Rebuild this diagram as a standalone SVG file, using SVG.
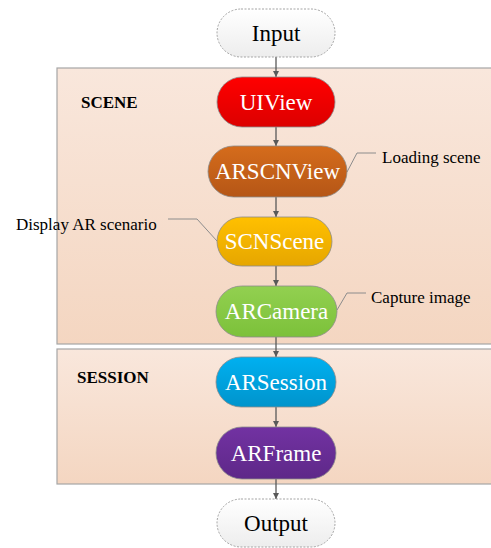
<svg xmlns="http://www.w3.org/2000/svg" width="491" height="548" viewBox="0 0 491 548">
  <defs>
    <linearGradient id="gPanel" x1="0" y1="0" x2="0" y2="1">
      <stop offset="0" stop-color="#f9e7dc"/>
      <stop offset="1" stop-color="#f4d6c1"/>
    </linearGradient>
    <linearGradient id="gIO" x1="0" y1="0" x2="0" y2="1">
      <stop offset="0" stop-color="#ffffff"/>
      <stop offset="1" stop-color="#ededed"/>
    </linearGradient>
    <linearGradient id="gRed" x1="0" y1="0" x2="0" y2="1">
      <stop offset="0" stop-color="#ff0000"/>
      <stop offset="1" stop-color="#dc0000"/>
    </linearGradient>
    <linearGradient id="gOrange" x1="0" y1="0" x2="0" y2="1">
      <stop offset="0" stop-color="#d56c1c"/>
      <stop offset="1" stop-color="#b55616"/>
    </linearGradient>
    <linearGradient id="gYellow" x1="0" y1="0" x2="0" y2="1">
      <stop offset="0" stop-color="#ffc000"/>
      <stop offset="1" stop-color="#e6a600"/>
    </linearGradient>
    <linearGradient id="gGreen" x1="0" y1="0" x2="0" y2="1">
      <stop offset="0" stop-color="#92d050"/>
      <stop offset="1" stop-color="#7cc13a"/>
    </linearGradient>
    <linearGradient id="gBlue" x1="0" y1="0" x2="0" y2="1">
      <stop offset="0" stop-color="#00b0f0"/>
      <stop offset="1" stop-color="#0094cc"/>
    </linearGradient>
    <linearGradient id="gPurple" x1="0" y1="0" x2="0" y2="1">
      <stop offset="0" stop-color="#7232a2"/>
      <stop offset="1" stop-color="#5e2888"/>
    </linearGradient>
    <marker id="arrow" viewBox="0 0 10 10" refX="10" refY="5" markerWidth="6" markerHeight="6" markerUnits="userSpaceOnUse" orient="auto">
      <path d="M0,0 L10,5 L0,10 z" fill="#595959"/>
    </marker>
  </defs>
  <style>
    .panel { fill: url(#gPanel); stroke: #a6a6a6; stroke-width: 1.2; }
    .group-label { font-family: "Liberation Serif", "Times New Roman", serif; font-weight: bold; font-size: 17px; fill: #000; }
    .node rect { stroke: #8c8c8c; stroke-width: 0.8; }
    .node text { font-family: "Liberation Serif", "Times New Roman", serif; font-size: 23px; fill: #ffffff; text-anchor: middle; }
    .io rect { fill: url(#gIO); stroke: #9a9a9a; stroke-width: 0.9; stroke-dasharray: 2 1.5; }
    .io text { fill: #000; }
    .edge { stroke: #595959; stroke-width: 1.3; fill: none; marker-end: url(#arrow); }
    .callout { stroke: #8c8c8c; stroke-width: 1; fill: none; }
    .note { font-family: "Liberation Serif", "Times New Roman", serif; font-size: 17px; fill: #000; }
  </style>

  <!-- layer panels -->
  <g id="panel-scene">
    <rect class="panel" x="57" y="68" width="440" height="276"/>
    <text class="group-label" x="81" y="108">SCENE</text>
  </g>
  <g id="panel-session">
    <rect class="panel" x="57" y="349" width="440" height="135"/>
    <text class="group-label" x="77" y="383">SESSION</text>
  </g>

  <!-- connectors -->
  <g id="connectors">
    <line class="edge" x1="276" y1="57" x2="276" y2="77"/>
    <line class="edge" x1="276" y1="127" x2="276" y2="146"/>
    <line class="edge" x1="276" y1="197" x2="276" y2="217"/>
    <line class="edge" x1="276" y1="266" x2="276" y2="286"/>
    <line class="edge" x1="276" y1="337" x2="276" y2="357"/>
    <line class="edge" x1="276" y1="407" x2="276" y2="427"/>
    <line class="edge" x1="276" y1="479" x2="276" y2="499"/>
  </g>

  <!-- annotation leaders -->
  <g id="callouts">
    <polyline class="callout" points="347,172 357,153 376,153"/>
    <polyline class="callout" points="217,241 197,219 168,219"/>
    <polyline class="callout" points="337,310 347,293 366,293"/>
  </g>

  <!-- nodes -->
  <g id="node-input" class="node io">
    <rect x="217" y="9" width="118" height="48" rx="24"/>
    <text x="276" y="40.5">Input</text>
  </g>
  <g id="node-uiview" class="node">
    <rect x="217" y="77" width="118" height="50" rx="25" fill="url(#gRed)"/>
    <text x="276" y="109.5">UIView</text>
  </g>
  <g id="node-arscnview" class="node">
    <rect x="208" y="146" width="139" height="51" rx="25.5" fill="url(#gOrange)"/>
    <text x="277.5" y="179">ARSCNView</text>
  </g>
  <g id="node-scnscene" class="node">
    <rect x="217" y="217" width="115" height="49" rx="24.5" fill="url(#gYellow)"/>
    <text x="274.5" y="249">SCNScene</text>
  </g>
  <g id="node-arcamera" class="node">
    <rect x="216" y="286" width="121" height="51" rx="25.5" fill="url(#gGreen)"/>
    <text x="276.5" y="319">ARCamera</text>
  </g>
  <g id="node-arsession" class="node">
    <rect x="216" y="357" width="120" height="50" rx="25" fill="url(#gBlue)"/>
    <text x="276" y="389.5">ARSession</text>
  </g>
  <g id="node-arframe" class="node">
    <rect x="216" y="427" width="120" height="52" rx="26" fill="url(#gPurple)"/>
    <text x="276" y="460.5">ARFrame</text>
  </g>
  <g id="node-output" class="node io">
    <rect x="217" y="499" width="118" height="48" rx="24"/>
    <text x="276" y="530.5">Output</text>
  </g>

  <!-- annotations -->
  <g id="notes">
    <text class="note" x="382" y="163">Loading scene</text>
    <text class="note" x="16" y="230">Display AR scenario</text>
    <text class="note" x="371" y="303">Capture image</text>
  </g>
</svg>
